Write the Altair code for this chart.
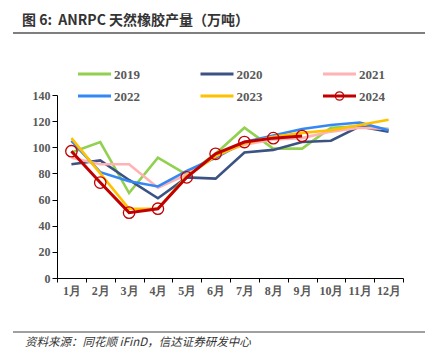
import altair as alt
import pandas as pd

months = ["1月", "2月", "3月", "4月", "5月", "6月", "7月", "8月", "9月", "10月", "11月", "12月"]
years = ["2019", "2020", "2021", "2022", "2023", "2024"]
v2019 = [96, 104, 65, 92, 79, 95, 115, 99, 99, 115, 116, 114]
v2020 = [87, 90, 75, 61, 77, 76, 96, 98, 104, 105, 116, 112]
v2021 = [92, 87, 87, 69, 79, 94, 102, 106, 107, 112, 115, 114]
v2022 = [105, 81, 74, 70, 82, 92, 104, 109, 114, 117, 119, 113]
v2023 = [107, 80, 53, 53, 78, 93, 103, 108, 111, 113, 117, 121]
v2024 = [97, 73, 50, 53, 77, 95, 104, 107, 108.6]
colors = ["#92D050", "#3B5283", "#FFB3B5", "#3388F5", "#FFC000", "#C00000"]

series = [v2019, v2020, v2021, v2022, v2023, v2024]
rows = []
for yr, vals in zip(years, series):
    for m, v in zip(months, vals):
        rows.append({"month": m, "year": yr, "value": v})
df = pd.DataFrame(rows)

serif = "Liberation Serif"
cjk = "Noto Sans CJK SC"

xenc = alt.X("month:O", sort=months, scale=alt.Scale(paddingInner=0, paddingOuter=0),
             axis=alt.Axis(title=None, labelAngle=0, tickBand="extent", domainColor="black",
                           tickColor="black", tickSize=4, labelFont=serif, labelFontWeight="bold",
                           labelFontSize=12, labelColor="#595959", labelPadding=3))
yenc = alt.Y("value:Q", scale=alt.Scale(domain=[0, 140], nice=False),
             axis=alt.Axis(title=None, values=list(range(0, 141, 20)), grid=False, domainColor="black",
                           tickColor="black", tickSize=5, labelFont=serif, labelFontWeight="bold",
                           labelFontSize=12, labelColor="#595959", labelPadding=2))

base = alt.Chart(df)
layers = []
for yr, c in zip(years, colors):
    layers.append(base.transform_filter(alt.datum.year == yr).mark_line(
        color=c, strokeWidth=3 if yr == "2024" else 2.6).encode(x=xenc, y=yenc))

pts = base.transform_filter(alt.datum.year == "2024").mark_point(
    shape="circle", size=130, color="#C00000", strokeWidth=1.3, filled=False, opacity=1
).encode(x=xenc, y=yenc)
layers.append(pts)

one = alt.Data(values=[{}])
for i, (yr, c) in enumerate(zip(years, colors)):
    col, row = i % 3, i // 3
    x0 = 21 + col * 122.5
    y0 = -21 + row * 22
    layers.append(alt.Chart(one).mark_rule(color=c, strokeWidth=3).encode(
        x=alt.value(x0), x2=alt.value(x0 + 33), y=alt.value(y0)))
    layers.append(alt.Chart(one).mark_text(
        text=yr, font=serif, fontWeight="bold", fontSize=13, color="#595959",
        align="left", baseline="middle").encode(x=alt.value(x0 + 36), y=alt.value(y0 + 1)))
    if yr == "2024":
        layers.append(alt.Chart(one).mark_point(
            shape="circle", size=70, color="#C00000", strokeWidth=1.3, filled=False, opacity=1
        ).encode(x=alt.value(x0 + 16.5), y=alt.value(y0)))

# title and footer
layers.append(alt.Chart(one).mark_text(
    text="图 6:\u00a0\u00a0ANRPC 天然橡胶产量（万吨）", font=cjk, fontWeight="bold", fontSize=14,
    color="#333333", align="left", baseline="middle").encode(x=alt.value(-35), y=alt.value(-74)))
layers.append(alt.Chart(one).mark_rule(color="#555555", strokeWidth=1.5).encode(
    x=alt.value(-44), x2=alt.value(368), y=alt.value(-62)))
layers.append(alt.Chart(one).mark_rule(color="#A0A0A0", strokeWidth=2).encode(
    x=alt.value(-44), x2=alt.value(368), y=alt.value(237)))
layers.append(alt.Chart(one).mark_text(
    text="资料来源：同花顺 iFinD，信达证券研发中心", font=cjk, fontStyle="italic", fontSize=11.5,
    color="#333333", align="left", baseline="middle").encode(x=alt.value(-32), y=alt.value(248)))

chart = alt.layer(*layers).properties(
    width=346, height=183,
    autosize=alt.AutoSizeParams(type="none"),
    padding={"left": 49, "top": 87, "right": 26, "bottom": 74},
).configure_view(stroke=None)

chart.save("out.html", embed_options={"renderer": "svg", "actions": False})
